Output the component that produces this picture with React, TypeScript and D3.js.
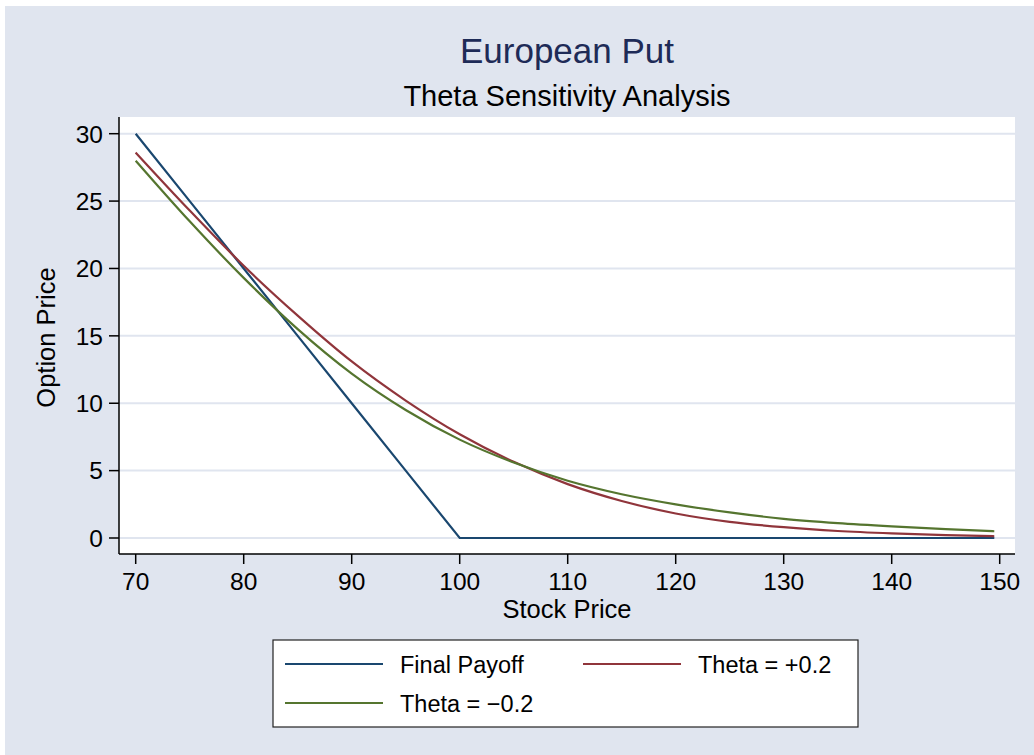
import * as d3 from 'd3';

// stock price grid the curves were sampled on
const stockPrices = [70, 75, 80, 85, 90, 95, 100, 105, 110, 115, 120, 125, 130, 135, 140, 145, 149.5];

const finalPayoff = [30, 25, 20, 15, 10, 5, 0, 0, 0, 0, 0, 0, 0, 0, 0, 0, 0];
const thetaPlus = [28.6, 24.3, 20.2, 16.5, 13.1, 10.2, 7.7, 5.65, 4.0, 2.75, 1.82, 1.2, 0.8, 0.52, 0.34, 0.21, 0.13];
const thetaMinus = [28.0, 23.5, 19.3, 15.5, 12.2, 9.5, 7.3, 5.6, 4.25, 3.25, 2.5, 1.9, 1.42, 1.1, 0.86, 0.66, 0.5];

const xTicks = [70, 80, 90, 100, 110, 120, 130, 140, 150];
const yTicks = [0, 5, 10, 15, 20, 25, 30];

const seriesNames = ['Final Payoff', 'Theta = +0.2', 'Theta = \u22120.2'];
const seriesColors = ['#1a476f', '#90353b', '#55752f'];

const W = 1034;
const H = 755;
const plot = { left: 119, right: 1015, top: 117, bottom: 554 };
const font = '"Liberation Sans", Arial, Helvetica, sans-serif';
const bg = '#e0e5ef';

export default function App() {
  const x = d3.scaleLinear().domain([70, 150]).range([135.7, 999.7]);
  const y = d3.scaleLinear().domain([0, 30]).range([538, 133.7]);

  const smooth = d3
    .line<number>()
    .x((_, i) => x(stockPrices[i]))
    .y((d) => y(d))
    .curve(d3.curveMonotoneX);
  const straight = d3
    .line<number>()
    .x((_, i) => x(stockPrices[i]))
    .y((d) => y(d));

  const paths = [straight(finalPayoff), smooth(thetaPlus), smooth(thetaMinus)];

  const legend = { x: 273, y: 640, w: 585, h: 87 };
  const legendItems = [
    { col: 0, row: 0 },
    { col: 1, row: 0 },
    { col: 0, row: 1 },
  ];

  return (
    <svg
      width={W}
      height={H}
      style={{ position: 'absolute', left: 0, top: 0, fontFamily: font }}
    >
      <rect width={W} height={H} fill="#ffffff" />
      <rect x={5} y={6} width={W - 5} height={H - 6} fill={bg} />
      <rect
        x={plot.left}
        y={plot.top}
        width={plot.right - plot.left}
        height={plot.bottom - plot.top}
        fill="#ffffff"
      />

      {yTicks.map((t) => (
        <line
          key={'g' + t}
          x1={plot.left}
          x2={plot.right}
          y1={y(t)}
          y2={y(t)}
          stroke={bg}
          strokeWidth={2}
        />
      ))}

      {paths.map((d, i) => (
        <path
          key={'s' + i}
          d={d ?? ''}
          fill="none"
          stroke={seriesColors[i]}
          strokeWidth={2.2}
        />
      ))}

      {/* axes */}
      <line x1={plot.left} x2={plot.left} y1={plot.top} y2={plot.bottom} stroke="#000" strokeWidth={1.5} />
      <line x1={plot.left} x2={plot.right} y1={plot.bottom} y2={plot.bottom} stroke="#000" strokeWidth={1.5} />

      {yTicks.map((t) => (
        <g key={'yt' + t}>
          <line x1={plot.left - 10} x2={plot.left} y1={y(t)} y2={y(t)} stroke="#000" strokeWidth={1.5} />
          <text x={103} y={y(t) + 8.8} textAnchor="end" fontSize={24.5} fill="#000">
            {t}
          </text>
        </g>
      ))}
      {xTicks.map((t) => (
        <g key={'xt' + t}>
          <line x1={x(t)} x2={x(t)} y1={plot.bottom} y2={plot.bottom + 10} stroke="#000" strokeWidth={1.5} />
          <text x={x(t)} y={589.5} textAnchor="middle" fontSize={24.5} fill="#000">
            {t}
          </text>
        </g>
      ))}

      <text x={567} y={618} textAnchor="middle" fontSize={25.5} fill="#000">
        Stock Price
      </text>
      <text
        transform={`translate(55,${(plot.top + plot.bottom) / 2 + 2}) rotate(-90)`}
        textAnchor="middle"
        fontSize={25.5}
        fill="#000"
      >
        Option Price
      </text>

      <text x={567} y={62.5} textAnchor="middle" fontSize={35} fill="#1e2b57">
        European Put
      </text>
      <text x={567} y={106} textAnchor="middle" fontSize={29} fill="#000">
        Theta Sensitivity Analysis
      </text>

      {/* legend */}
      <rect x={legend.x} y={legend.y} width={legend.w} height={legend.h} fill="#ffffff" stroke="#222" strokeWidth={1.2} />
      {legendItems.map((it, i) => {
        const lx = legend.x + 12 + it.col * 298;
        const ly = legend.y + 24 + it.row * 39;
        return (
          <g key={'l' + i}>
            <line x1={lx} x2={lx + 98} y1={ly} y2={ly} stroke={seriesColors[i]} strokeWidth={2} />
            <text x={lx + 115} y={ly + 8.5} fontSize={23.5} fill="#000">
              {seriesNames[i]}
            </text>
          </g>
        );
      })}
    </svg>
  );
}
